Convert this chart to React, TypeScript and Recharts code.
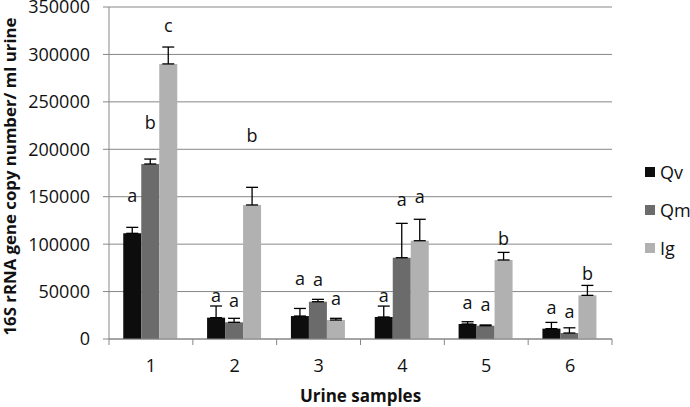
import React from 'react';
import { BarChart, Bar, XAxis, YAxis, CartesianGrid, Legend, ErrorBar, LabelList } from 'recharts';

const samples = ['1', '2', '3', '4', '5', '6'];
const qvMean = [111400, 22500, 24200, 23200, 15800, 10900];
const qvErr = [6300, 12300, 8000, 11500, 2400, 6600];
const qmMean = [184500, 17600, 39300, 85700, 14000, 6300];
const qmErr = [5200, 4200, 2500, 36200, 800, 5500];
const igMean = [290000, 141300, 20000, 103600, 83300, 46000];
const igErr = [17800, 18600, 1800, 22600, 8000, 10500];
const qvLetters = ['a', 'a', 'a', 'a', 'a', 'a'];
const qmLetters = ['b', 'a', 'a', 'a', 'a', 'a'];
const igLetters = ['c', 'b', 'a', 'a', 'b', 'b'];
const qvLetterLevel = [144700, 38700, 56900, 38700, 31300, 26400];
const qmLetterLevel = [221400, 34100, 55900, 140500, 29500, 21800];
const igLetterLevel = [323300, 208000, 35800, 143100, 99100, 62200];
const yTicks = [0, 50000, 100000, 150000, 200000, 250000, 300000, 350000];
const seriesNames = ['Qv', 'Qm', 'Ig'];
const seriesColors = ['#0d0d0d', '#6b6b6b', '#b1b1b1'];

const FONT = '"Open Sans", "Liberation Sans", sans-serif';
const TEXT = '#111111';
const AXIS = '#878787';

const data = samples.map((s, i) => ({
  sample: s,
  Qv: qvMean[i],
  QvErr: [0, qvErr[i]],
  QvLetter: qvLetters[i],
  Qm: qmMean[i],
  QmErr: [0, qmErr[i]],
  QmLetter: qmLetters[i],
  Ig: igMean[i],
  IgErr: [0, igErr[i]],
  IgLetter: igLetters[i],
}));

const makeLetter = (means: number[], levels: number[]) => (props: any) => {
  const vb = props.viewBox || props;
  const x = Number(vb.x ?? props.x);
  const y = Number(vb.y ?? props.y);
  const w = Number(vb.width ?? props.width);
  const h = Number(vb.height ?? props.height);
  const idx = props.index;
  if (idx == null || !means[idx]) return null;
  const bottom = y + h;
  const pxPerUnit = h / means[idx];
  const ty = bottom - levels[idx] * pxPerUnit;
  return (
    <text x={x + w / 2} y={ty} textAnchor="middle" fontSize={18} fill={TEXT} fontFamily={FONT}>
      {props.value}
    </text>
  );
};

const XTick = (props: any) => {
  const { x, y, payload, index } = props;
  const half = payload?.offset ?? 0;
  const last = index === samples.length - 1;
  return (
    <g>
      <line x1={x - half} x2={x - half} y1={y} y2={y + 6} stroke={AXIS} strokeWidth={1} />
      {last && <line x1={x + half} x2={x + half} y1={y} y2={y + 6} stroke={AXIS} strokeWidth={1} />}
      <text x={x} y={y + 33} textAnchor="middle" fontSize={18} fill={TEXT} fontFamily={FONT}>
        {payload.value}
      </text>
    </g>
  );
};

const LegendContent = () => (
  <div style={{ position: 'relative', width: 78, height: 407 }}>
    {seriesNames.map((n, i) => (
      <div
        key={n}
        style={{
          position: 'absolute',
          left: 33,
          top: 160 + i * 38,
          height: 24,
          display: 'flex',
          alignItems: 'center',
          fontFamily: FONT,
          fontSize: 18,
          color: TEXT,
          lineHeight: '24px',
          whiteSpace: 'nowrap',
        }}
      >
        <span style={{ display: 'inline-block', width: 10, height: 10, background: seriesColors[i], marginRight: 5 }} />
        <span>{n}</span>
      </div>
    ))}
  </div>
);

export default function App() {
  return (
    <div style={{ position: 'absolute', left: 0, top: 0, width: 690, height: 407, background: '#fff' }}>
      <BarChart
        width={690}
        height={407}
        data={data}
        margin={{ top: 7, right: 0, bottom: 0, left: 0 }}
        barCategoryGap="17%"
        barGap={0}
      >
        <CartesianGrid horizontal vertical={false} stroke={AXIS} strokeWidth={1} />
        <XAxis
          dataKey="sample"
          height={68}
          axisLine={{ stroke: AXIS }}
          tickLine={false}
          tickSize={0}
          tickMargin={0}
          tick={<XTick />}
          interval={0}
          label={{
            content: (p: any) => {
              const vb = p.viewBox;
              return (
                <text x={vb.x + vb.width / 2} y={vb.y + 63} textAnchor="middle" fontSize={17} fontWeight="bold" fill={TEXT} fontFamily={FONT}>
                  Urine samples
                </text>
              );
            },
          }}
        />
        <YAxis
          width={109}
          domain={[0, 350000]}
          ticks={yTicks}
          interval={0}
          axisLine={{ stroke: AXIS }}
          tickLine={{ stroke: AXIS }}
          tickSize={6}
          tickMargin={13}
          tick={{ fontSize: 18, fill: TEXT, fontFamily: FONT }}
          label={{
            content: () => (
              <text x={15.5} y={176.5} transform="rotate(-90 15.5 176.5)" textAnchor="middle" fontSize={16.8} fontWeight="bold" fill={TEXT} fontFamily={FONT}>
                16S rRNA gene copy number/ ml urine
              </text>
            ),
          }}
        />
        <Legend
          layout="vertical"
          align="right"
          verticalAlign="top"
          wrapperStyle={{ width: 78, height: 407, top: 0, right: 0 }}
          content={<LegendContent />}
        />
        <Bar dataKey="Qv" fill={seriesColors[0]} isAnimationActive={false}>
          <ErrorBar dataKey="QvErr" width={6} stroke="#000" strokeWidth={1.3} direction="y" />
          <LabelList dataKey="QvLetter" content={makeLetter(qvMean, qvLetterLevel)} />
        </Bar>
        <Bar dataKey="Qm" fill={seriesColors[1]} isAnimationActive={false}>
          <ErrorBar dataKey="QmErr" width={6} stroke="#000" strokeWidth={1.3} direction="y" />
          <LabelList dataKey="QmLetter" content={makeLetter(qmMean, qmLetterLevel)} />
        </Bar>
        <Bar dataKey="Ig" fill={seriesColors[2]} isAnimationActive={false}>
          <ErrorBar dataKey="IgErr" width={6} stroke="#000" strokeWidth={1.3} direction="y" />
          <LabelList dataKey="IgLetter" content={makeLetter(igMean, igLetterLevel)} />
        </Bar>
      </BarChart>
    </div>
  );
}
